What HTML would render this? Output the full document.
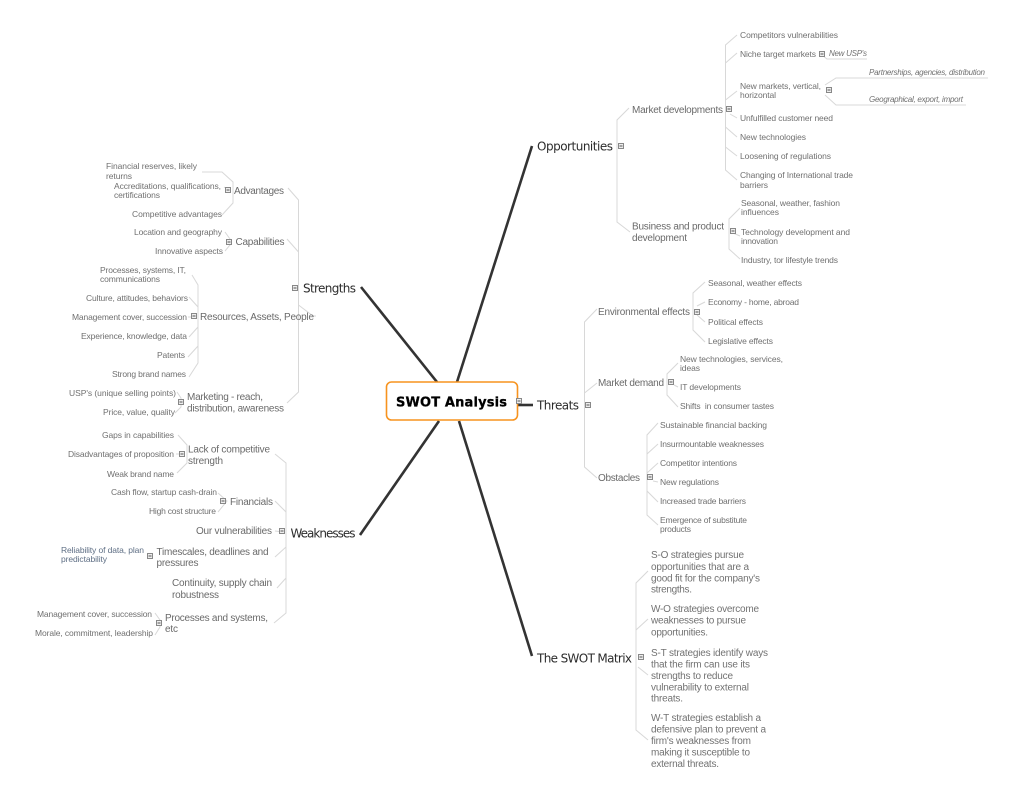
<!DOCTYPE html>
<html><head><meta charset="utf-8"><style>
html,body{margin:0;padding:0;background:#fff}
svg{display:block}
text{font-family:"Liberation Sans",sans-serif;fill:#707070;font-size:8.5px;white-space:pre}
.m{font-size:10px;fill:#6a6a6a}
.h{font-family:"DejaVu Sans",sans-serif;font-size:12px;fill:#2c2c2c}
.i{font-style:italic;font-size:8px}
.p{font-size:10px;fill:#727272}
.b{fill:#5f6f85}
.l{fill:none;stroke:#d8d8d8;stroke-width:1}
.t{fill:none;stroke:#333;stroke-width:2.600}
.x rect{fill:#eee;stroke:#888;stroke-width:1}
.x path{stroke:#555;stroke-width:1;fill:none}
</style></head><body>
<svg width="1020" height="799" viewBox="0 0 1020 799" xmlns="http://www.w3.org/2000/svg">
<g class="t">
<path d="M457 382L532 146"/><path d="M361 287L437 382"/><path d="M360 535L439 421"/><path d="M459 421L532 656"/><path d="M518 405H533"/>
</g>
<g class="l">
<path d="M629 108L617 120V222L630 232"/>
<path d="M737 35L725.500 45V170L737 180M737 53L725.500 63M737 91L725.500 100M737 118L730 114M737 137L725.500 127M737 156L725.500 147"/>
<path d="M822 55L827 59H867"/>
<path d="M825 85L836 78H988M825 95L836 105H966"/>
<path d="M740 208L729 219V249L740 259M740 236L733 233"/>
<path d="M597 309L584.500 322V467L597 478M597 383L584.500 393"/>
<path d="M705 282L693 293V330L705 342M705 302L697 306M705 322L697 315"/>
<path d="M678 363L667 374V395L678 407M678 387L674 385"/>
<path d="M658 423L647 435V515L658 525M658 444L647 454M658 463L647 473M658 482L653 481M658 502L647 491"/>
<path d="M288 188L298.500 200V392L287 403M287 239L298.500 252M298.500 305L313 316H316"/>
<path d="M202 172H222L233 182V203L222 215M224 187L227 189"/>
<path d="M225 232L230 239V245L225 251"/>
<path d="M192 275L198 285V363L189 377M189 297L198 307M188 317H192M189 337L198 327M188 357L198 346"/>
<path d="M177 392L181 398V407L175 413"/>
<path d="M275 454L286 463V613L274 623M275 501L286 512M275 531L279 531.500M275 557L286 547M277 588L286 578"/>
<path d="M178 435L187 445V463L177 473M176 454H179"/>
<path d="M218 493L227 501L218 512"/>
<path d="M155 613L160 620V627L155 635"/>
<path d="M648 571L636 583V730L648 740M648 619L636 630M648 675L638 667"/>
</g>
<rect x="386.500" y="382" width="131" height="38" rx="5" ry="5" fill="#fff" stroke="#f7931e" stroke-width="1.600"/>
<text x="396" y="406.500" textLength="111" style="font-family:'DejaVu Sans',sans-serif;font-weight:bold;font-size:13px;fill:#000;stroke:#000;stroke-width:.3">SWOT Analysis</text>
<g class="x">
<rect x="618.500" y="143.500" width="5" height="5"/><path d="M619.500 146H622.500"/>
<rect x="726.500" y="106.500" width="5" height="5"/><path d="M727.500 109H730.500"/>
<rect x="819.500" y="51.500" width="5" height="5"/><path d="M820.500 54H823.500"/>
<rect x="826.500" y="87.500" width="5" height="5"/><path d="M827.500 90H830.500"/>
<rect x="730.500" y="228.500" width="5" height="5"/><path d="M731.500 231H734.500"/>
<rect x="694.500" y="309.500" width="5" height="5"/><path d="M695.500 312H698.500"/>
<rect x="668.500" y="379.500" width="5" height="5"/><path d="M669.500 382H672.500"/>
<rect x="647.500" y="474.500" width="5" height="5"/><path d="M648.500 477H651.500"/>
<rect x="585.500" y="402.500" width="5" height="5"/><path d="M586.500 405H589.500"/>
<rect x="516.500" y="398.500" width="5" height="5"/><path d="M517.500 401H520.500"/>
<rect x="292.500" y="285.500" width="5" height="5"/><path d="M293.500 288H296.500"/>
<rect x="225.500" y="187.500" width="5" height="5"/><path d="M226.500 190H229.500"/>
<rect x="226.500" y="239.500" width="5" height="5"/><path d="M227.500 242H230.500"/>
<rect x="191.500" y="313.500" width="5" height="5"/><path d="M192.500 316H195.500"/>
<rect x="178.500" y="399.500" width="5" height="5"/><path d="M179.500 402H182.500"/>
<rect x="179.500" y="451.500" width="5" height="5"/><path d="M180.500 454H183.500"/>
<rect x="220.500" y="498.500" width="5" height="5"/><path d="M221.500 501H224.500"/>
<rect x="279.500" y="528.500" width="5" height="5"/><path d="M280.500 531H283.500"/>
<rect x="147.500" y="553.500" width="5" height="5"/><path d="M148.500 556H151.500"/>
<rect x="156.500" y="620.500" width="5" height="5"/><path d="M157.500 623H160.500"/>
<rect x="638.500" y="654.500" width="5" height="5"/><path d="M639.500 657H642.500"/>
</g>

<text class="h" x="537" y="150.500" textLength="76">Opportunities</text>
<text class="h" x="537" y="409.500" textLength="42">Threats</text>
<text class="h" x="303" y="292.500" textLength="53">Strengths</text>
<text class="h" x="290.500" y="537.500" textLength="65">Weaknesses</text>
<text class="h" x="537" y="662.500" textLength="95">The SWOT Matrix</text>

<text x="740" y="38" textLength="98">Competitors vulnerabilities</text>
<text x="740" y="57" textLength="76">Niche target markets</text>
<text class="i" x="829" y="56" textLength="38">New USP's</text>
<text class="i" x="869" y="75" textLength="116">Partnerships, agencies, distribution</text>
<text class="i" x="869" y="102" textLength="94">Geographical, export, import</text>
<text x="740" y="89" textLength="81">New markets, vertical,</text>
<text x="740" y="98" textLength="36">horizontal</text>
<text x="740" y="121" textLength="93">Unfulfilled customer need</text>
<text x="740" y="140" textLength="66">New technologies</text>
<text x="740" y="159" textLength="91">Loosening of regulations</text>
<text x="740" y="178" textLength="113">Changing of International trade</text>
<text x="740" y="188" textLength="28">barriers</text>
<text class="m" x="632" y="113" textLength="91">Market developments</text>
<text class="m" x="632" y="229.500" textLength="92">Business and product</text>
<text class="m" x="632" y="241" textLength="55">development</text>
<text x="741" y="206" textLength="99">Seasonal, weather, fashion</text>
<text x="741" y="215" textLength="38">influences</text>
<text x="741" y="235" textLength="109">Technology development and</text>
<text x="741" y="244" textLength="37">innovation</text>
<text x="741" y="263" textLength="97">Industry, tor lifestyle trends</text>

<text class="m" x="598" y="315" textLength="92">Environmental effects</text>
<text class="m" x="598" y="386" textLength="66">Market demand</text>
<text class="m" x="598" y="481" textLength="42">Obstacles</text>
<text x="708" y="286" textLength="94">Seasonal, weather effects</text>
<text x="708" y="305" textLength="91">Economy - home, abroad</text>
<text x="708" y="325" textLength="55">Political effects</text>
<text x="708" y="344" textLength="65">Legislative effects</text>
<text x="680" y="362" textLength="103">New technologies, services,</text>
<text x="680" y="371" textLength="20">ideas</text>
<text x="680" y="390" textLength="61">IT developments</text>
<text x="680" y="409" textLength="94">Shifts  in consumer tastes</text>
<text x="660" y="428" textLength="107">Sustainable financial backing</text>
<text x="660" y="447" textLength="104">Insurmountable weaknesses</text>
<text x="660" y="466" textLength="77">Competitor intentions</text>
<text x="660" y="485" textLength="59">New regulations</text>
<text x="660" y="504" textLength="86">Increased trade barriers</text>
<text x="660" y="523" textLength="87">Emergence of substitute</text>
<text x="660" y="532" textLength="31">products</text>

<text class="m" x="234" y="194" textLength="50">Advantages</text>
<text class="m" x="235.500" y="245" textLength="49">Capabilities</text>
<text class="m" x="200" y="320" textLength="114">Resources, Assets, People</text>
<text class="m" x="187" y="400" textLength="76">Marketing - reach,</text>
<text class="m" x="187" y="411.500" textLength="97">distribution, awareness</text>
<text x="106" y="169" textLength="91">Financial reserves, likely</text>
<text x="106" y="179" textLength="26">returns</text>
<text x="114" y="189" textLength="107">Accreditations, qualifications,</text>
<text x="114" y="198" textLength="46">certifications</text>
<text x="132" y="217" textLength="90">Competitive advantages</text>
<text x="134" y="235" textLength="88">Location and geography</text>
<text x="155" y="254" textLength="68">Innovative aspects</text>
<text x="100" y="273" textLength="86">Processes, systems, IT,</text>
<text x="100" y="282" textLength="60">communications</text>
<text x="86" y="301" textLength="102">Culture, attitudes, behaviors</text>
<text x="72" y="320" textLength="115">Management cover, succession</text>
<text x="81" y="339" textLength="106">Experience, knowledge, data</text>
<text x="157" y="358" textLength="28">Patents</text>
<text x="112" y="377" textLength="74">Strong brand names</text>
<text x="69" y="396" textLength="107">USP's (unique selling points)</text>
<text x="103" y="415" textLength="72">Price, value, quality</text>

<text class="m" x="188" y="452.500" textLength="82">Lack of competitive</text>
<text class="m" x="188" y="464" textLength="35">strength</text>
<text class="m" x="230" y="505" textLength="43">Financials</text>
<text class="m" x="196" y="534" textLength="76">Our vulnerabilities</text>
<text class="m" x="156.500" y="555" textLength="112">Timescales, deadlines and</text>
<text class="m" x="156.500" y="566" textLength="42">pressures</text>
<text class="m" x="172" y="586" textLength="100">Continuity, supply chain</text>
<text class="m" x="172" y="598" textLength="47">robustness</text>
<text class="m" x="165" y="621" textLength="103">Processes and systems,</text>
<text class="m" x="165" y="632" textLength="13">etc</text>
<text x="102" y="438" textLength="72">Gaps in capabilities</text>
<text x="68" y="457" textLength="106">Disadvantages of proposition</text>
<text x="107" y="477" textLength="67">Weak brand name</text>
<text x="111" y="495" textLength="106">Cash flow, startup cash-drain</text>
<text x="149" y="514" textLength="67">High cost structure</text>
<text class="b" x="61" y="553" textLength="83">Reliability of data, plan</text>
<text class="b" x="61" y="562" textLength="46">predictability</text>
<text x="37" y="617" textLength="115">Management cover, succession</text>
<text x="35" y="636" textLength="118">Morale, commitment, leadership</text>

<text class="p" x="651" y="558" textLength="93">S-O strategies pursue</text>
<text class="p" x="651" y="570" textLength="98">opportunities that are a</text>
<text class="p" x="651" y="581.500" textLength="109">good fit for the company's</text>
<text class="p" x="651" y="592.500" textLength="41">strengths.</text>
<text class="p" x="651" y="612" textLength="108">W-O strategies overcome</text>
<text class="p" x="651" y="623.500" textLength="95">weaknesses to pursue</text>
<text class="p" x="651" y="635.500" textLength="57">opportunities.</text>
<text class="p" x="651" y="656" textLength="117">S-T strategies identify ways</text>
<text class="p" x="651" y="667.500" textLength="99">that the firm can use its</text>
<text class="p" x="651" y="679" textLength="82">strengths to reduce</text>
<text class="p" x="651" y="690.500" textLength="98">vulnerability to external</text>
<text class="p" x="651" y="701.500" textLength="32">threats.</text>
<text class="p" x="651" y="721" textLength="110">W-T strategies establish a</text>
<text class="p" x="651" y="732.500" textLength="115">defensive plan to prevent a</text>
<text class="p" x="651" y="744" textLength="100">firm's weaknesses from</text>
<text class="p" x="651" y="755.500" textLength="99">making it susceptible to</text>
<text class="p" x="651" y="767" textLength="68">external threats.</text>
</svg>
</body></html>
